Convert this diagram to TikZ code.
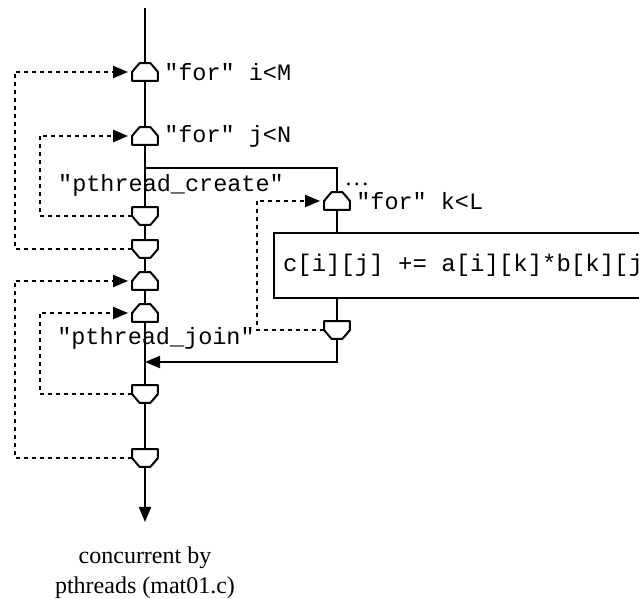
\documentclass[tikz,border=0pt]{standalone}
\usepackage{fontspec}
\setmainfont{Liberation Serif}
\setmonofont{Liberation Mono}
\usetikzlibrary{positioning,arrows.meta}

\begin{document}
\begin{tikzpicture}[
  x=0.5pt, y=-0.5pt,
  >={Triangle[length=7.5pt,width=6pt]},
  flow/.style={line width=1pt},
  back/.style={line width=1pt, dash pattern=on 2pt off 2pt, shorten >=2pt},
  loopnode/.style={rectangle, minimum width=12.5pt, minimum height=8.5pt, inner sep=0pt},
  lab/.style={font=\ttfamily\fontsize{11.75}{14}\selectfont, inner sep=1pt},
  stmt/.style={draw, line width=1pt, font=\ttfamily\fontsize{12}{14}\selectfont,
    minimum height=32.5pt, inner xsep=4.5pt, anchor=west}
]
\clip (0,0) rectangle (639,599);

% main thread
\coordinate (top) at (145,8);
\node[loopnode] (bi)  at (145,72)  {};
\node[loopnode] (bj)  at (145,136) {};
\coordinate (ck) at (145,168);
\node[loopnode] (ej)  at (145,216) {};
\node[loopnode] (ei)  at (145,249) {};
\node[loopnode] (bi2) at (145,281) {};
\node[loopnode] (bj2) at (145,313) {};
\coordinate (jn) at (145,362);
\node[loopnode] (ej2) at (145,394) {};
\node[loopnode] (ei2) at (145,458) {};
\coordinate (out) at (145,522);

% loop labels
\node[lab, right=2pt of bi] (li) {"for" i<M};
\node[lab, right=2pt of bj] (lj) {"for" j<N};
\node[lab] (create) at (171,185) {"pthread\_create"};
\node[lab] (joinlab) at (156,338) {"pthread\_join"};

% thread body
\node[loopnode] (bk) at (337,201) {};
\node[lab, right=2pt of bk] (lk) {"for" k<L};
\node[font=\fontsize{12}{14}\selectfont, anchor=base] (dots) at (357,186) {.\kern1.2pt.\kern1.2pt.};
\node[stmt] (body) at (273,265.5) {c[i][j] += a[i][k]*b[k][j]};
\node[loopnode] (ek) at (337,330) {};

\draw[flow] (top) -- (bi) -- (bj) -- (ej) -- (ei) -- (bi2) -- (bj2) -- (ej2) -- (ei2);
\draw[flow,->] (ei2) -- (out);
\draw[flow] (ck) -| (bk);
\draw[flow] (bk) -- (bk |- body.north);
\draw[flow] (body.south -| ek) -- (ek);
\draw[flow,->] (ek) |- (jn);

% loop heads and tails
\foreach \n in {bi,bj,bi2,bj2,bk}
  \draw[flow, fill=white, line join=round] (\n.south west) -- ([yshift=4.5pt]\n.south west)
    -- ([xshift=3.75pt]\n.north west) -- ([xshift=-3.75pt]\n.north east)
    -- ([yshift=4.5pt]\n.south east) -- (\n.south east) -- cycle;
\foreach \n in {ej,ei,ej2,ei2,ek}
  \draw[flow, fill=white, line join=round] (\n.north west) -- ([yshift=-4.5pt]\n.north west)
    -- ([xshift=3.75pt]\n.south west) -- ([xshift=-3.75pt]\n.south east)
    -- ([yshift=-4.5pt]\n.north east) -- (\n.north east) -- cycle;

% loop back edges
\draw[back,->] (ei.west) -- ++(-117.5,0) |- (bi.west);
\draw[back,->] (ej.west) -- ++(-92.5,0) |- (bj.west);
\draw[back,->] (ek.west) -- ++(-67.5,0) |- (bk.west);
\draw[back,->] (ei2.west) -- ++(-117.5,0) |- (bi2.west);
\draw[back,->] (ej2.west) -- ++(-92.5,0) |- (bj2.west);

\node[align=center, font=\fontsize{12}{15}\selectfont] (caption) at (145,573)
  {concurrent by\\pthreads (mat01.c)};
\end{tikzpicture}
\end{document}
